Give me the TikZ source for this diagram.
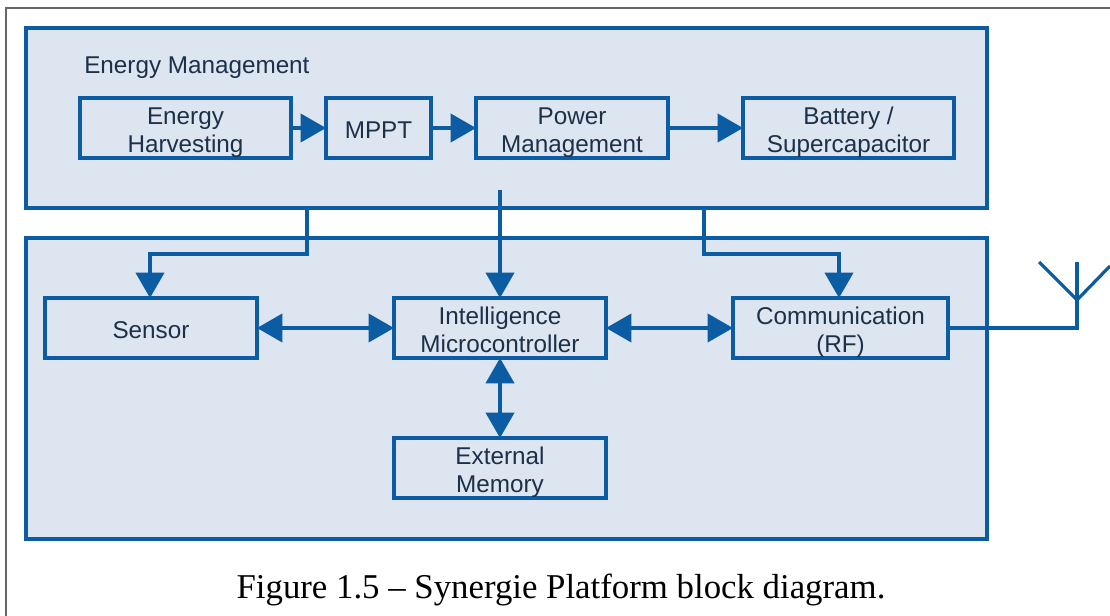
\documentclass[tikz,border=0pt]{standalone}
\usepackage{fontspec}
\setmainfont{Liberation Sans}
\newfontfamily\capfont{Liberation Serif}
\usetikzlibrary{arrows.meta}
\definecolor{bl}{HTML}{0B5CA3}
\definecolor{pan}{HTML}{DDE5F0}
\definecolor{tx}{HTML}{1C3048}
\tikzset{
  panel/.style={draw=bl,fill=pan,line width=3pt,rectangle,inner sep=0pt,outer sep=0pt,anchor=north west},
  block/.style={draw=bl,fill=pan,line width=3pt,rectangle,inner sep=0pt,outer sep=0pt,anchor=north west,text=tx,
     align=center,font=\fontsize{18.2}{21}\selectfont},
  conn/.style={draw=bl,line width=3pt},
  arr/.style={conn,-{Triangle[length=19pt,width=21pt,fill=bl]}},
  biarr/.style={conn,{Triangle[length=19pt,width=21pt,fill=bl]}-{Triangle[length=19pt,width=21pt,fill=bl]}},
  thinline/.style={draw=bl,line width=2.4pt}
}
\newcommand{\blockat}[6]{\node[block,minimum width=#4*0.75pt,minimum height=#5*0.75pt] (#1) at (#2,#3) {\rule{0pt}{19.5pt}#6\rule[-3pt]{0pt}{0pt}};}
\begin{document}
\begin{tikzpicture}[x=0.75pt,y=-0.75pt]
\useasboundingbox (0,0) rectangle (1110,616);
\fill[white] (0,0) rectangle (1110,616);
\coordinate (ftl) at (6,8);
\coordinate (fbl) at (6,616);
\coordinate (ftr) at (1110,8);
\draw[black!60,line width=1pt] (fbl) -- (ftl) -- (ftr);
\node[panel,minimum width=961*0.75pt,minimum height=180*0.75pt] (top) at (26,28) {};
\node[panel,minimum width=961*0.75pt,minimum height=301*0.75pt] (low) at (26,238) {};
\node[anchor=west,text=tx,font=\fontsize{18.2}{21}\selectfont,inner sep=0pt] (em) at (84,68) {Energy Management};
\blockat{eh}{80}{98}{211}{60}{Energy\\Harvesting}
\blockat{mppt}{326}{98}{105}{60}{MPPT}
\blockat{pm}{476}{98}{192}{60}{Power\\Management}
\blockat{bat}{743}{98}{211}{60}{Battery /\\Supercapacitor}
\blockat{sen}{45}{298}{212}{60}{Sensor}
\blockat{mcu}{394}{298}{212}{60}{Intelligence\\Microcontroller}
\blockat{rf}{733}{298}{215}{60}{Communication\\(RF)}
\blockat{mem}{394}{438}{212}{60}{External\\Memory}
\draw[arr] (eh.east) -- (mppt.west);
\draw[arr] (mppt.east) -- (pm.west);
\draw[arr] (pm.east) -- (bat.west);
\draw[biarr] (sen.east) -- (mcu.west);
\draw[biarr] (mcu.east) -- (rf.west);
\draw[biarr] (mcu.south) -- (mem.north);
\coordinate (s1) at (307,208);
\coordinate (s2) at (704,208);
\coordinate (s0) at (500,190);
\draw[arr] (s1) -- (307,254) -- (150,254) -- (150,298);
\draw[arr] (s0) -- (mcu.north);
\draw[arr] (s2) -- (704,254) -- (839,254) -- (839,298);
\coordinate (af) at (1077,300);
\coordinate (al) at (1039,262);
\coordinate (am) at (1077,262);
\coordinate (ar) at (1110,266);
\draw[thinline] (rf.east) -| (am);
\draw[thinline] (al) -- (af) -- (ar);
\node[font=\capfont\fontsize{26.1}{30}\selectfont,text=black,inner sep=0pt] (cap) at (561,590) {Figure 1.5 – Synergie Platform block diagram.};
\end{tikzpicture}
\end{document}
